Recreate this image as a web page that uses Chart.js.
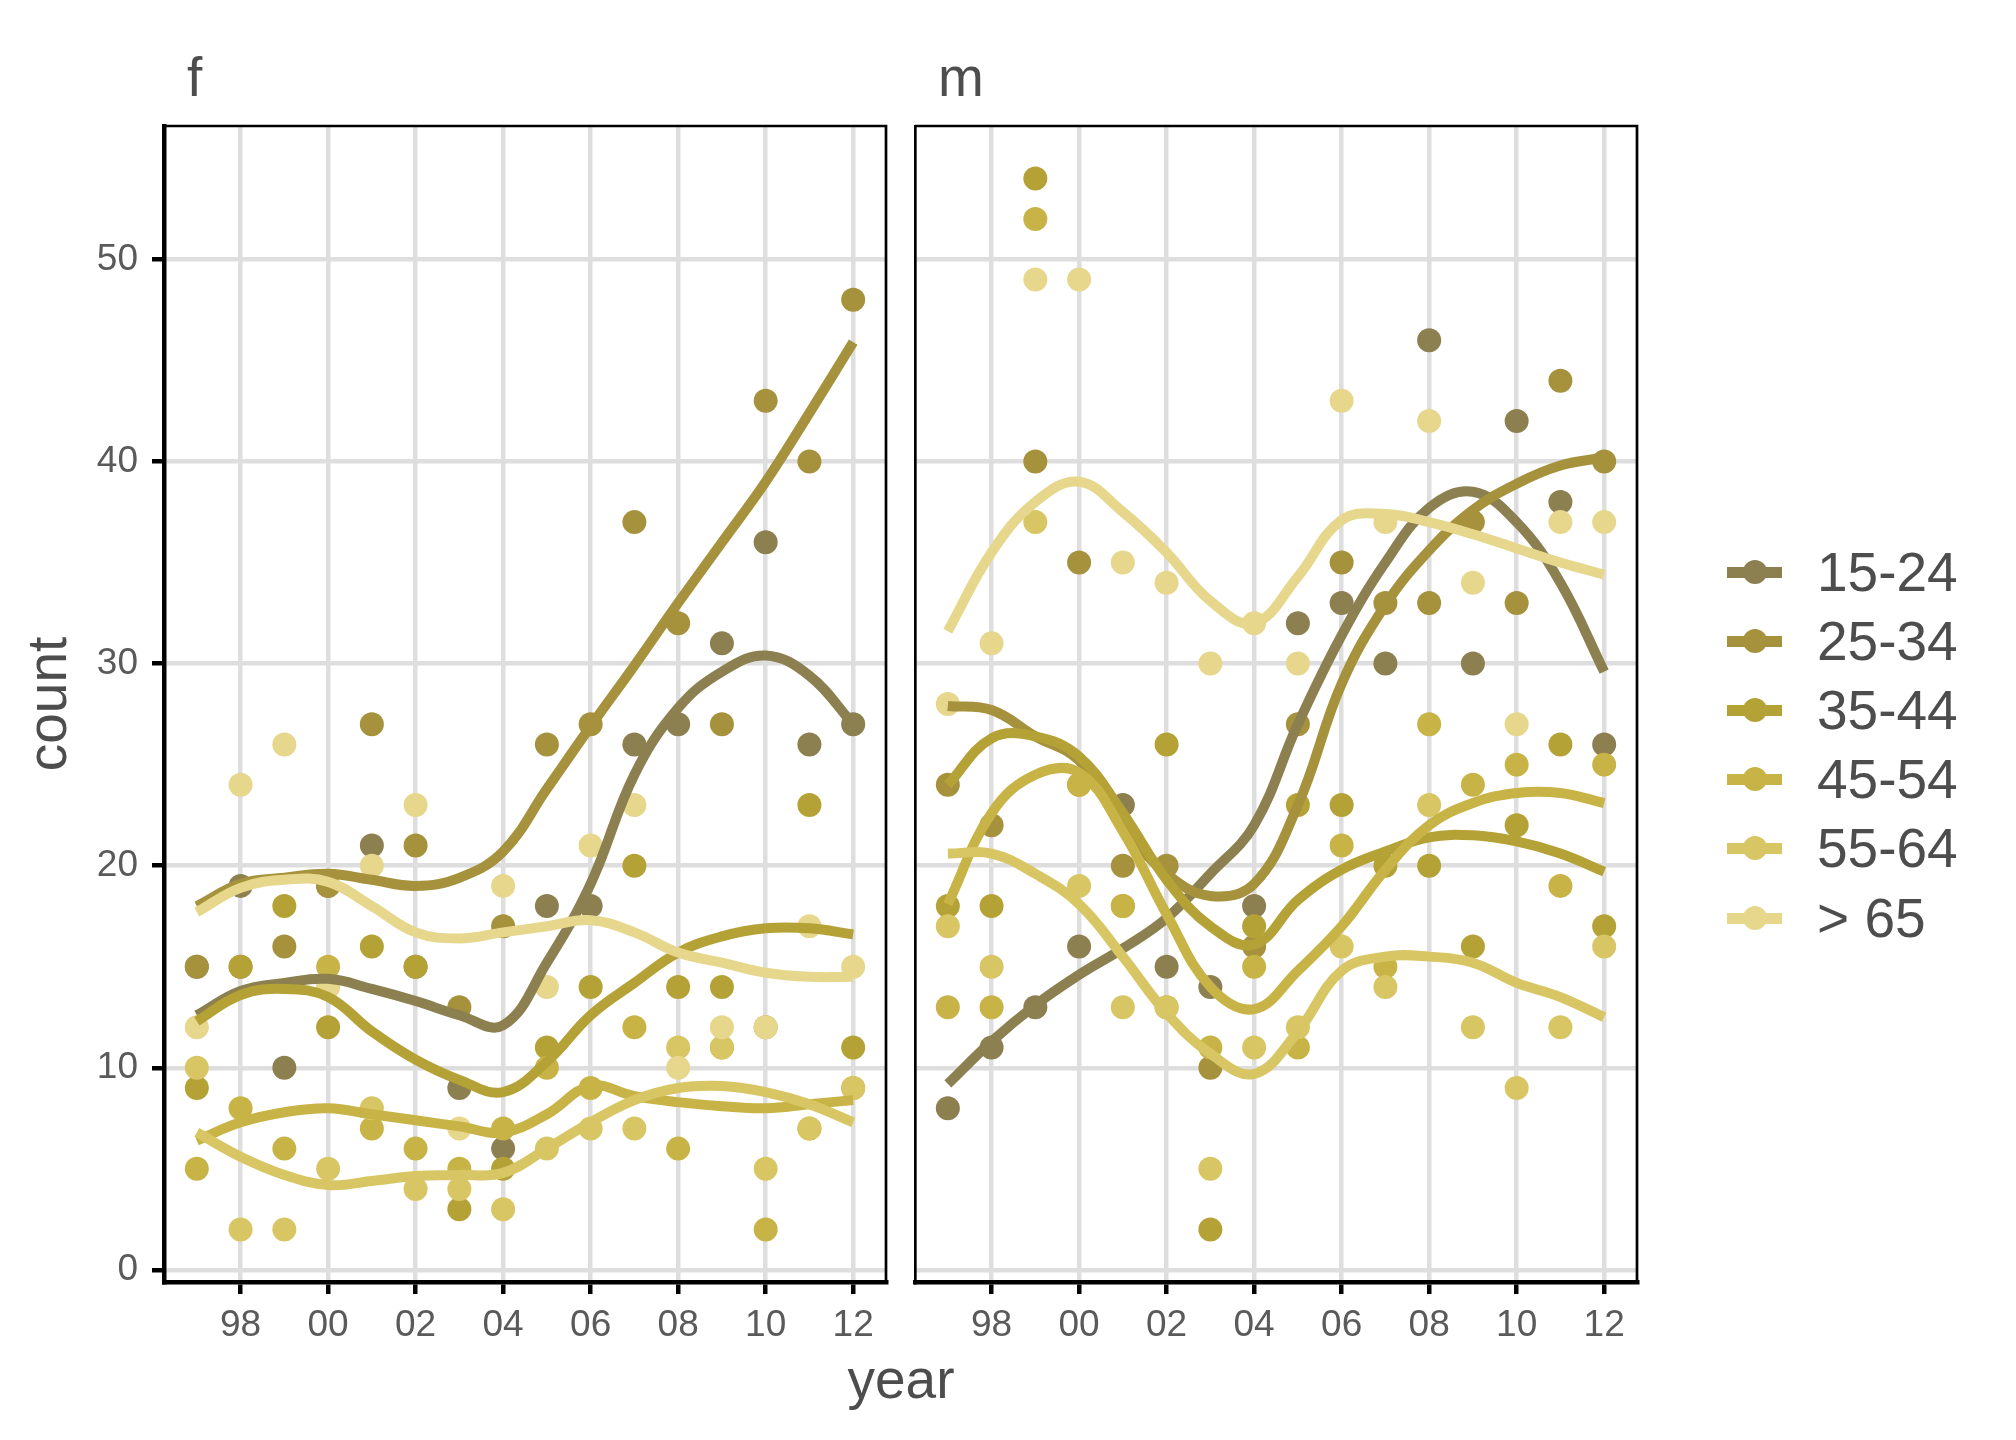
<!DOCTYPE html>
<html>
<head>
<meta charset="utf-8">
<script src="https://cdn.jsdelivr.net/npm/chart.js@4.4.1/dist/chart.umd.min.js"></script>
<style>
  html, body { margin: 0; padding: 0; background: #ffffff; }
  #wrap { position: relative; width: 2016px; height: 1440px; overflow: hidden; background: #ffffff;
          font-family: "Liberation Sans", Arial, Helvetica, sans-serif; }
  canvas { position: absolute; }
  .txt { position: absolute; white-space: nowrap; font-size: 55px; line-height: 55px; color: #4D4D4D; }
  .key-line { position: absolute; height: 11px; width: 55px; }
  .key-dot { position: absolute; width: 24px; height: 24px; border-radius: 50%; }
</style>
</head>
<body>
<div id="wrap">
  <div class="txt" style="left:187px; top:50px;">f</div>
  <div class="txt" style="left:938px; top:50px;">m</div>
  <div class="txt" id="xtitle" style="left:901px; top:1352px; transform:translateX(-50%);">year</div>
  <div class="txt" id="ytitle" style="left:47px; top:704px; transform:translate(-50%,-50%) rotate(-90deg);">count</div>
  <canvas id="cf" width="900" height="1304" style="left:0px; top:86px;"></canvas>
  <canvas id="cm" width="760" height="1304" style="left:900px; top:86px;"></canvas>
  <div id="legend"></div>
</div>
<script>
// ---------- data ----------
const years = [1997,1998,1999,2000,2001,2002,2003,2004,2005,2006,2007,2008,2009,2010,2011,2012];
const groups = ["15-24","25-34","35-44","45-54","55-64","> 65"];
const colors = ["#8C7F50","#A6923C","#B5A236","#C8B446","#D8C664","#E6D78C"];
const xTicks = [1998,2000,2002,2004,2006,2008,2010,2012];
const yTicks = [0,10,20,30,40,50];

// panel f : observed counts
const f1524 = [15,19,10,19,21,15,9,6,18,18,26,27,31,36,26,27];
const f2534 = [15,15,16,19,27,21,13,17,26,27,37,32,27,43,40,48];
const f3544 = [9,15,18,12,16,15,3,5,11,14,20,14,14,12,23,11];
const f4554 = [5,8,6,15,7,6,5,7,10,9,12,6,11,2,7,9];
const f5564 = [10,2,2,5,8,4,4,3,6,7,7,11,11,5,7,9];
const f65   = [12,24,26,14,20,23,7,19,14,21,23,10,12,12,17,15];
// panel f : smoothed trend
const sf1524 = [12.6,13.8,14.2,14.4,13.9,13.3,12.6,12.1,15.2,19.1,24.5,27.8,29.6,30.4,29.4,27.0];
const sf2534 = [18.0,19.1,19.4,19.6,19.3,19.0,19.4,20.7,23.8,26.9,29.9,33.0,36.0,39.0,42.4,45.9];
const sf3544 = [12.3,13.6,13.9,13.5,11.8,10.4,9.4,8.8,10.3,12.6,14.2,15.7,16.5,16.9,16.9,16.6];
const sf4554 = [6.4,7.3,7.8,8.0,7.7,7.4,7.1,6.8,7.7,9.1,8.6,8.3,8.1,8.0,8.2,8.4];
const sf5564 = [6.8,5.6,4.7,4.2,4.4,4.65,4.7,4.8,6.0,7.3,8.4,9.0,9.1,8.8,8.2,7.3];
const sf65   = [17.7,18.9,19.3,19.2,18.0,16.7,16.4,16.7,17.0,17.3,16.7,15.7,15.2,14.7,14.5,14.5];

// panel m : observed counts
const m1524 = [8,11,13,16,23,15,14,18,32,33,30,46,30,42,38,26];
const m2534 = [24,22,40,35,20,20,10,16,27,35,33,33,37,33,44,40];
const m3544 = [18,18,54,24,18,26,2,17,23,23,20,20,16,22,26,17];
const m4554 = [13,13,52,24,18,13,11,15,11,21,15,27,24,25,19,25];
const m5564 = [17,15,37,19,13,13,5,11,12,16,14,23,12,9,12,16];
const m65   = [28,31,49,49,35,34,30,32,30,43,37,42,34,27,37,37];
// panel m : smoothed trend
const sm1524 = [9.2,11.3,13.1,14.6,15.9,17.4,19.6,22.0,27.0,31.4,35.0,37.7,38.5,37.0,34.0,29.6];
const sm2534 = [27.9,27.7,26.4,25.2,22.0,19.6,18.5,19.1,23.0,29.0,32.9,35.6,37.6,38.9,39.8,40.2];
const sm3544 = [24.0,26.3,26.4,25.4,22.6,19.3,17.0,16.1,18.3,19.8,20.7,21.4,21.5,21.2,20.6,19.7];
const sm4554 = [18.1,22.6,24.5,24.6,21.7,17.6,14.0,12.9,14.8,17.0,19.8,22.0,23.1,23.6,23.6,23.1];
const sm5564 = [20.6,20.6,19.6,18.1,15.5,12.7,10.7,9.7,11.8,14.8,15.5,15.5,15.2,14.2,13.5,12.5];
const sm65   = [31.6,35.5,38.0,39.0,37.5,35.5,33.1,32.0,34.3,37.1,37.4,37.0,36.4,35.7,35.0,34.4];

const fPoints = [f1524,f2534,f3544,f4554,f5564,f65];
const fSmooth = [sf1524,sf2534,sf3544,sf4554,sf5564,sf65];
const mPoints = [m1524,m2534,m3544,m4554,m5564,m65];
const mSmooth = [sm1524,sm2534,sm3544,sm4554,sm5564,sm65];

// ---------- helpers ----------
const FONT = '"Liberation Sans", Arial, Helvetica, sans-serif';
const toXY = (vals) => vals.map((v, i) => ({x: years[i], y: v}));

function buildDatasets(points, smooth) {
  const ds = [];
  points.forEach((vals, g) => {
    ds.push({
      type: 'scatter', label: groups[g], data: toXY(vals),
      backgroundColor: colors[g], borderWidth: 0, pointRadius: 12, pointHoverRadius: 12,
      showLine: false, order: 100 - g
    });
  });
  smooth.forEach((vals, g) => {
    ds.push({
      type: 'line', label: groups[g] + ' trend', data: toXY(vals),
      borderColor: colors[g], borderWidth: 10, pointRadius: 0, fill: false,
      tension: 0.4, order: 50 - g, borderCapStyle: 'butt'
    });
  });
  return ds;
}

const framePlugin = {
  id: 'frame',
  afterDraw(chart) {
    const a = chart.chartArea, ctx = chart.ctx;
    ctx.save();
    ctx.strokeStyle = '#000';
    ctx.lineWidth = 2.7;
    ctx.beginPath();
    ctx.moveTo(a.left, a.top);
    ctx.lineTo(a.right, a.top);
    ctx.lineTo(a.right, a.bottom);
    ctx.stroke();
    ctx.restore();
  }
};

function makeChart(id, points, smooth, showY, yWidth, padRight) {
  const ctx = document.getElementById(id).getContext('2d');
  return new Chart(ctx, {
    type: 'scatter',
    data: { datasets: buildDatasets(points, smooth) },
    options: {
      responsive: false, animation: false, devicePixelRatio: 1,
      layout: { padding: { left: 0, right: padRight, top: 40, bottom: 0 } },
      plugins: { legend: { display: false }, tooltip: { enabled: false } },
      scales: {
        x: {
          type: 'linear', min: 1996.25, max: 2012.75,
          afterBuildTicks: (axis) => { axis.ticks = xTicks.map(v => ({value: v})); },
          afterFit: (s) => { s.height = 108; },
          ticks: {
            callback: (v) => String(v % 100).padStart(2, '0'),
            font: { family: FONT, size: 37 }, color: '#5A5A5A', padding: 10, maxRotation: 0, autoSkip: false
          },
          grid: { color: '#DEDEDE', lineWidth: 4.5, drawTicks: true, tickLength: 12, tickColor: '#000', tickWidth: 4.5 },
          border: { display: true, color: '#000', width: 4.5 }
        },
        y: {
          type: 'linear', min: -0.6, max: 56.6,
          afterBuildTicks: (axis) => { axis.ticks = yTicks.map(v => ({value: v})); },
          afterFit: (s) => { s.width = yWidth; },
          ticks: {
            display: showY, callback: (v) => String(v),
            font: { family: FONT, size: 37 }, color: '#5A5A5A', padding: 14
          },
          grid: { color: '#DEDEDE', lineWidth: 4.5, drawTicks: showY, tickLength: 12, tickColor: '#000', tickWidth: 4.5 },
          border: { display: true, color: '#000', width: showY ? 4.5 : 2.7 }
        }
      }
    },
    plugins: [framePlugin]
  });
}

makeChart('cf', fPoints, fSmooth, true, 164, 14);
makeChart('cm', mPoints, mSmooth, false, 15, 23);

// ---------- legend ----------
const legend = document.getElementById('legend');
const rowY = [572, 641, 710, 779, 848, 918];
groups.forEach((g, i) => {
  const cy = rowY[i];
  const line = document.createElement('div');
  line.className = 'key-line';
  line.style.left = '1727px'; line.style.top = (cy - 5.5) + 'px'; line.style.background = colors[i];
  legend.appendChild(line);
  const dot = document.createElement('div');
  dot.className = 'key-dot';
  dot.style.left = (1755 - 12) + 'px'; dot.style.top = (cy - 12) + 'px'; dot.style.background = colors[i];
  legend.appendChild(dot);
  const t = document.createElement('div');
  t.className = 'txt';
  t.textContent = g;
  t.style.left = '1817px'; t.style.top = (cy - 27) + 'px';
  legend.appendChild(t);
});
</script>
</body>
</html>
